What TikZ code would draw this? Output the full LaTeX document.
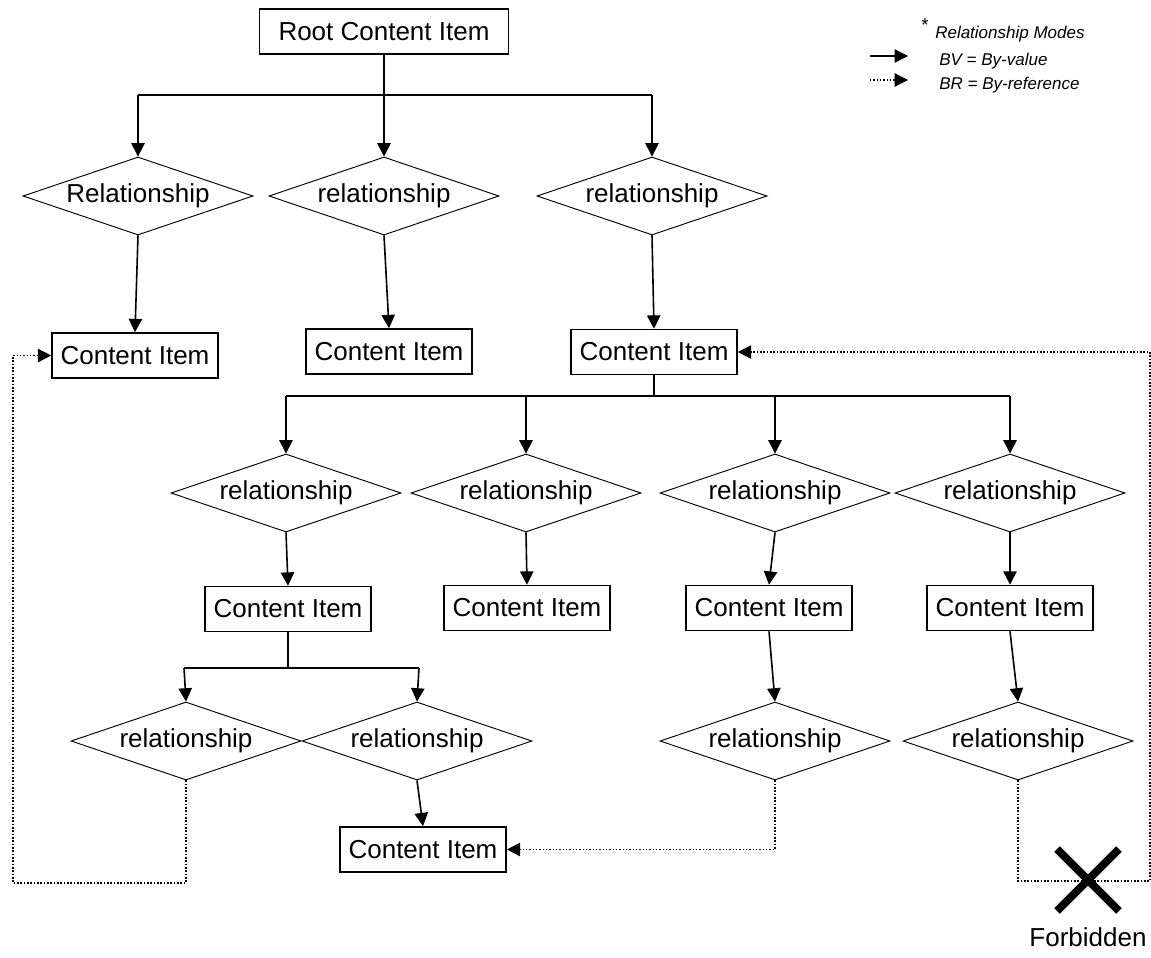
\documentclass[tikz,border=0pt]{standalone}
\usepackage{fontspec}
\setmainfont{Liberation Sans}
\usetikzlibrary{shapes.geometric,arrows.meta}
\begin{document}
\begin{tikzpicture}[x=0.75pt,y=-0.75pt,
  every node/.style={font=\fontsize{19.5pt}{23pt}\selectfont, inner sep=0pt},
  cibox/.style={draw, line width=1.2pt, minimum width=124.5pt, minimum height=33.75pt},
  rootbox/.style={cibox, minimum width=186.75pt},
  reldiam/.style={diamond, draw, line width=0.7pt, aspect=2.95, minimum width=172.5pt, minimum height=58.5pt},
  bus/.style={line width=1.2pt},
  bv/.style={line width=1.2pt, -{Triangle[length=10pt,width=10pt]}},
  brline/.style={line width=1.1pt, dash pattern=on 1.1pt off 1.4pt},
  br/.style={brline, -{Triangle[length=10pt,width=10pt]}},
  legend/.style={font=\fontsize{12.75pt}{15pt}\selectfont\itshape, anchor=base west},
  xline/.style={line width=6pt},
]
\useasboundingbox (0,0) rectangle (1151,957);

% legend
\node[font=\fontsize{14pt}{15pt}\selectfont] (star) at (925,25) {*};
\node[legend] (lgtitle) at (935,38) {Relationship Modes};
\node[legend] (lgbv) at (939,65) {BV = By-value};
\node[legend] (lgbr) at (939,89) {BR = By-reference};
\coordinate (lga1) at (870,56); \coordinate (lga2) at (908,56);
\coordinate (lgb1) at (870,80); \coordinate (lgb2) at (908,80);
\draw[bv, line width=1pt] (lga1) -- (lga2);
\draw[br, line width=0.9pt] (lgb1) -- (lgb2);

% root
\node[rootbox] (root) at (384,31.5) {Root Content Item};

% level 1
\node[reldiam] (d1) at (138,196) {Relationship};
\node[reldiam] (d2) at (384,196) {relationship};
\node[reldiam] (d3) at (652,196) {relationship};
\coordinate (b1l) at (138,95);
\coordinate (b1r) at (652,95);
\draw[bus] (b1l) -- (b1r);
\draw[bv] (root.south) -- (d2.north);
\draw[bv] (b1l) -- (d1.north);
\draw[bv] (b1r) -- (d3.north);

\node[cibox] (c1) at (135,355.5) {Content Item};
\node[cibox] (c2) at (389,351.5) {Content Item};
\node[cibox] (c3) at (654,352) {Content Item};
\draw[bv] (d1.south) -- (c1.north);
\draw[bv] (d2.south) -- (c2.north);
\draw[bv] (d3.south) -- (c3.north);

% level 2
\coordinate (b2m) at (654,396);
\coordinate (b2l) at (286,396);
\coordinate (b2r) at (1010,396);
\draw[bus] (c3.south) -- (b2m);
\draw[bus] (b2l) -- (b2r);
\node[reldiam] (d4) at (286,493) {relationship};
\node[reldiam] (d5) at (526,493) {relationship};
\node[reldiam] (d6) at (775,493) {relationship};
\node[reldiam] (d7) at (1010,493) {relationship};
\coordinate (b2a) at (526,396);
\coordinate (b2b) at (775,396);
\draw[bv] (b2l) -- (d4.north);
\draw[bv] (b2a) -- (d5.north);
\draw[bv] (b2b) -- (d6.north);
\draw[bv] (b2r) -- (d7.north);

\node[cibox] (c4) at (288,609) {Content Item};
\node[cibox] (c5) at (527,608) {Content Item};
\node[cibox] (c6) at (769,608) {Content Item};
\node[cibox] (c7) at (1010,608) {Content Item};
\draw[bv] (d4.south) -- (c4.north);
\draw[bv] (d5.south) -- (c5.north);
\draw[bv] (d6.south) -- (c6.north);
\draw[bv] (d7.south) -- (c7.north);

% level 3
\coordinate (b3m) at (288,668);
\coordinate (b3l) at (184,668);
\coordinate (b3r) at (419,668);
\draw[bus] (c4.south) -- (b3m);
\draw[bus] (b3l) -- (b3r);
\node[reldiam] (d8) at (186,741) {relationship};
\node[reldiam] (d9) at (417,741) {relationship};
\node[reldiam] (d10) at (775,741) {relationship};
\node[reldiam] (d11) at (1018,741) {relationship};
\draw[bv] (b3l) -- (d8.north);
\draw[bv] (b3r) -- (d9.north);
\draw[bv] (c6.south) -- (d10.north);
\draw[bv] (c7.south) -- (d11.north);

\node[cibox] (c8) at (423,849.5) {Content Item};
\draw[bv] (d9.south) -- (c8.north);

% by-reference links
\coordinate (lp) at (13,883);
\draw[br] (d8.south) |- (lp) |- (c1.west);
\draw[br] (d10.south) |- (c8.east);
\coordinate (rp) at (1150,881);
\draw[br] (d11.south) |- (rp) |- (c3.east);

% forbidden mark
\node[minimum width=46pt, minimum height=46pt] (xmark) at (1088,880) {};
\draw[xline] (xmark.north west) -- (xmark.south east);
\draw[xline] (xmark.north east) -- (xmark.south west);
\node (forbid) at (1088,937) {Forbidden};
\end{tikzpicture}
\end{document}
